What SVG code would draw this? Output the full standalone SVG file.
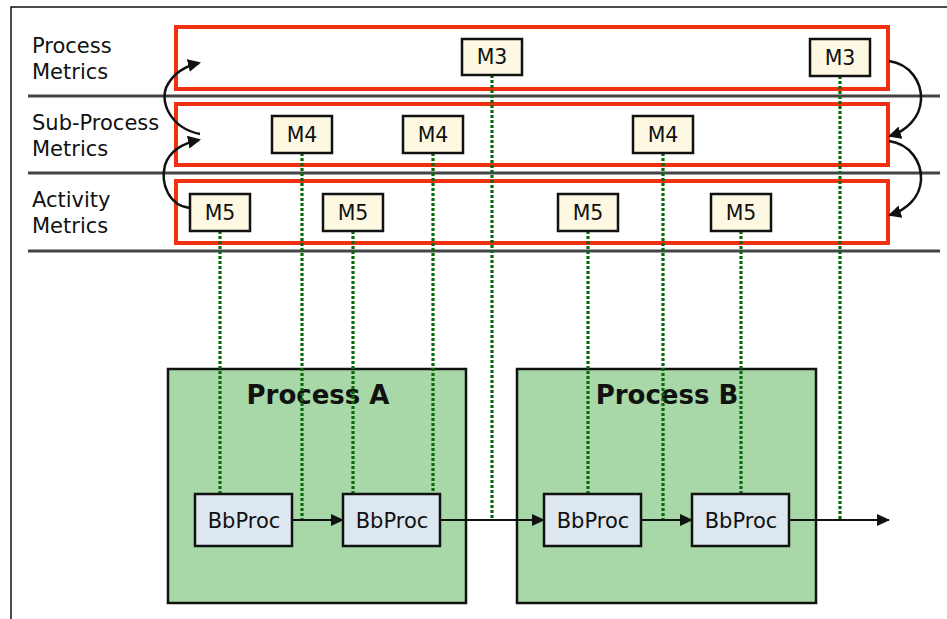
<svg xmlns="http://www.w3.org/2000/svg" width="947" height="619" viewBox="0 0 947 619">
<style>
.lbl{font-family:"DejaVu Sans","Liberation Sans",sans-serif;font-size:21px;fill:#111}
.mt{font-family:"DejaVu Sans","Liberation Sans",sans-serif;font-size:20.5px;fill:#111;text-anchor:middle}
.bt{font-family:"DejaVu Sans","Liberation Sans",sans-serif;font-size:21px;fill:#111;text-anchor:middle}
.pt{font-family:"DejaVu Sans","Liberation Sans",sans-serif;font-size:26px;font-weight:bold;fill:#111;text-anchor:middle}
.row{fill:none;stroke:#f03010;stroke-width:4}
.sep{stroke:#444;stroke-width:3}
.m{fill:#fdf8e2;stroke:#111;stroke-width:2.5}
.bb{fill:#dde7ef;stroke:#111;stroke-width:2.5}
.proc{fill:#a8d8a8;stroke:#111;stroke-width:2.5}
.dot{stroke:#0a6a0a;stroke-width:3.2;stroke-dasharray:3 2;fill:none}
.flow{stroke:#111;stroke-width:2;fill:none;marker-end:url(#ah)}
.curve{stroke:#111;stroke-width:2.5;fill:none;marker-end:url(#ah2)}
</style>
<defs>
<marker id="ah" markerWidth="13" markerHeight="12" refX="12" refY="6" orient="auto" markerUnits="userSpaceOnUse" viewBox="0 0 13 12"><path d="M0,0 L13,6 L0,12 z" fill="#111"/></marker>
<marker id="ah2" markerWidth="13" markerHeight="13" refX="11" refY="6.5" orient="auto" markerUnits="userSpaceOnUse" viewBox="0 0 13 13"><path d="M0,0 L13,6.5 L0,13 z" fill="#111"/></marker>
</defs>
<rect width="947" height="619" fill="#fff"/>
<path d="M11,619 L11,7 L947,7" fill="none" stroke="#111" stroke-width="1.5"/>
<g id="separators">
<line class="sep" x1="28" y1="96" x2="940" y2="96"/>
<line class="sep" x1="28" y1="173" x2="940" y2="173"/>
<line class="sep" x1="28" y1="251" x2="940" y2="251"/>
</g>
<g id="row-process"><rect class="row" x="176" y="27" width="712" height="62"/><text class="lbl" x="32" y="53">Process</text><text class="lbl" x="32" y="79">Metrics</text></g>
<g id="row-subprocess"><rect class="row" x="176" y="104" width="712" height="61"/><text class="lbl" x="32" y="130">Sub-Process</text><text class="lbl" x="32" y="156">Metrics</text></g>
<g id="row-activity"><rect class="row" x="176" y="181" width="712" height="62"/><text class="lbl" x="32" y="207">Activity</text><text class="lbl" x="32" y="233">Metrics</text></g>
<g id="processA"><rect class="proc" x="168" y="369" width="298" height="234"/><text class="pt" x="318" y="404">Process A</text></g>
<g id="processB"><rect class="proc" x="517" y="369" width="299" height="234"/><text class="pt" x="667" y="404">Process B</text></g>
<g id="connectors">
<line class="dot" x1="220" y1="231" x2="220" y2="494"/>
<line class="dot" x1="302" y1="153" x2="302" y2="520"/>
<line class="dot" x1="353" y1="231" x2="353" y2="494"/>
<line class="dot" x1="433" y1="153" x2="433" y2="494"/>
<line class="dot" x1="492" y1="75" x2="492" y2="520"/>
<line class="dot" x1="588" y1="231" x2="588" y2="494"/>
<line class="dot" x1="663" y1="153" x2="663" y2="520"/>
<line class="dot" x1="741" y1="231" x2="741" y2="494"/>
<line class="dot" x1="840" y1="76" x2="840" y2="520"/>
<line class="flow" x1="292" y1="520" x2="343" y2="520"/>
<line class="flow" x1="440" y1="520" x2="544" y2="520"/>
<line class="flow" x1="641" y1="520" x2="692" y2="520"/>
<line class="flow" x1="789" y1="520" x2="889" y2="520"/>
<path class="curve" d="M200,134 C170,128 158,100 168,84 C175,72 186,66 199,63"/>
<path class="curve" d="M190,208 C170,206 160,185 165,165 C170,150 184,143 199,140"/>
<path class="curve" d="M889,61 C910,64 922,82 921,100 C920,118 906,131 890,136"/>
<path class="curve" d="M889,141 C910,144 922,162 921,180 C920,198 906,210 890,215"/>
</g>
<g id="m3a"><rect class="m" x="462" y="39" width="60" height="36"/><text class="mt" x="492" y="64">M3</text></g>
<g id="m3b"><rect class="m" x="810" y="39" width="60" height="37"/><text class="mt" x="840" y="65">M3</text></g>
<g id="m4a"><rect class="m" x="272" y="116" width="60" height="37"/><text class="mt" x="302" y="142">M4</text></g>
<g id="m4b"><rect class="m" x="403" y="116" width="60" height="37"/><text class="mt" x="433" y="142">M4</text></g>
<g id="m4c"><rect class="m" x="633" y="116" width="60" height="37"/><text class="mt" x="663" y="142">M4</text></g>
<g id="m5a"><rect class="m" x="190" y="194" width="60" height="37"/><text class="mt" x="220" y="220">M5</text></g>
<g id="m5b"><rect class="m" x="323" y="194" width="60" height="37"/><text class="mt" x="353" y="220">M5</text></g>
<g id="m5c"><rect class="m" x="558" y="194" width="60" height="37"/><text class="mt" x="588" y="220">M5</text></g>
<g id="m5d"><rect class="m" x="711" y="194" width="60" height="37"/><text class="mt" x="741" y="220">M5</text></g>
<g id="bbA1"><rect class="bb" x="195" y="494" width="97" height="52"/><text class="bt" x="244" y="528">BbProc</text></g>
<g id="bbA2"><rect class="bb" x="343" y="494" width="97" height="52"/><text class="bt" x="392" y="528">BbProc</text></g>
<g id="bbB1"><rect class="bb" x="544" y="494" width="97" height="52"/><text class="bt" x="593" y="528">BbProc</text></g>
<g id="bbB2"><rect class="bb" x="692" y="494" width="97" height="52"/><text class="bt" x="741" y="528">BbProc</text></g>
</svg>
